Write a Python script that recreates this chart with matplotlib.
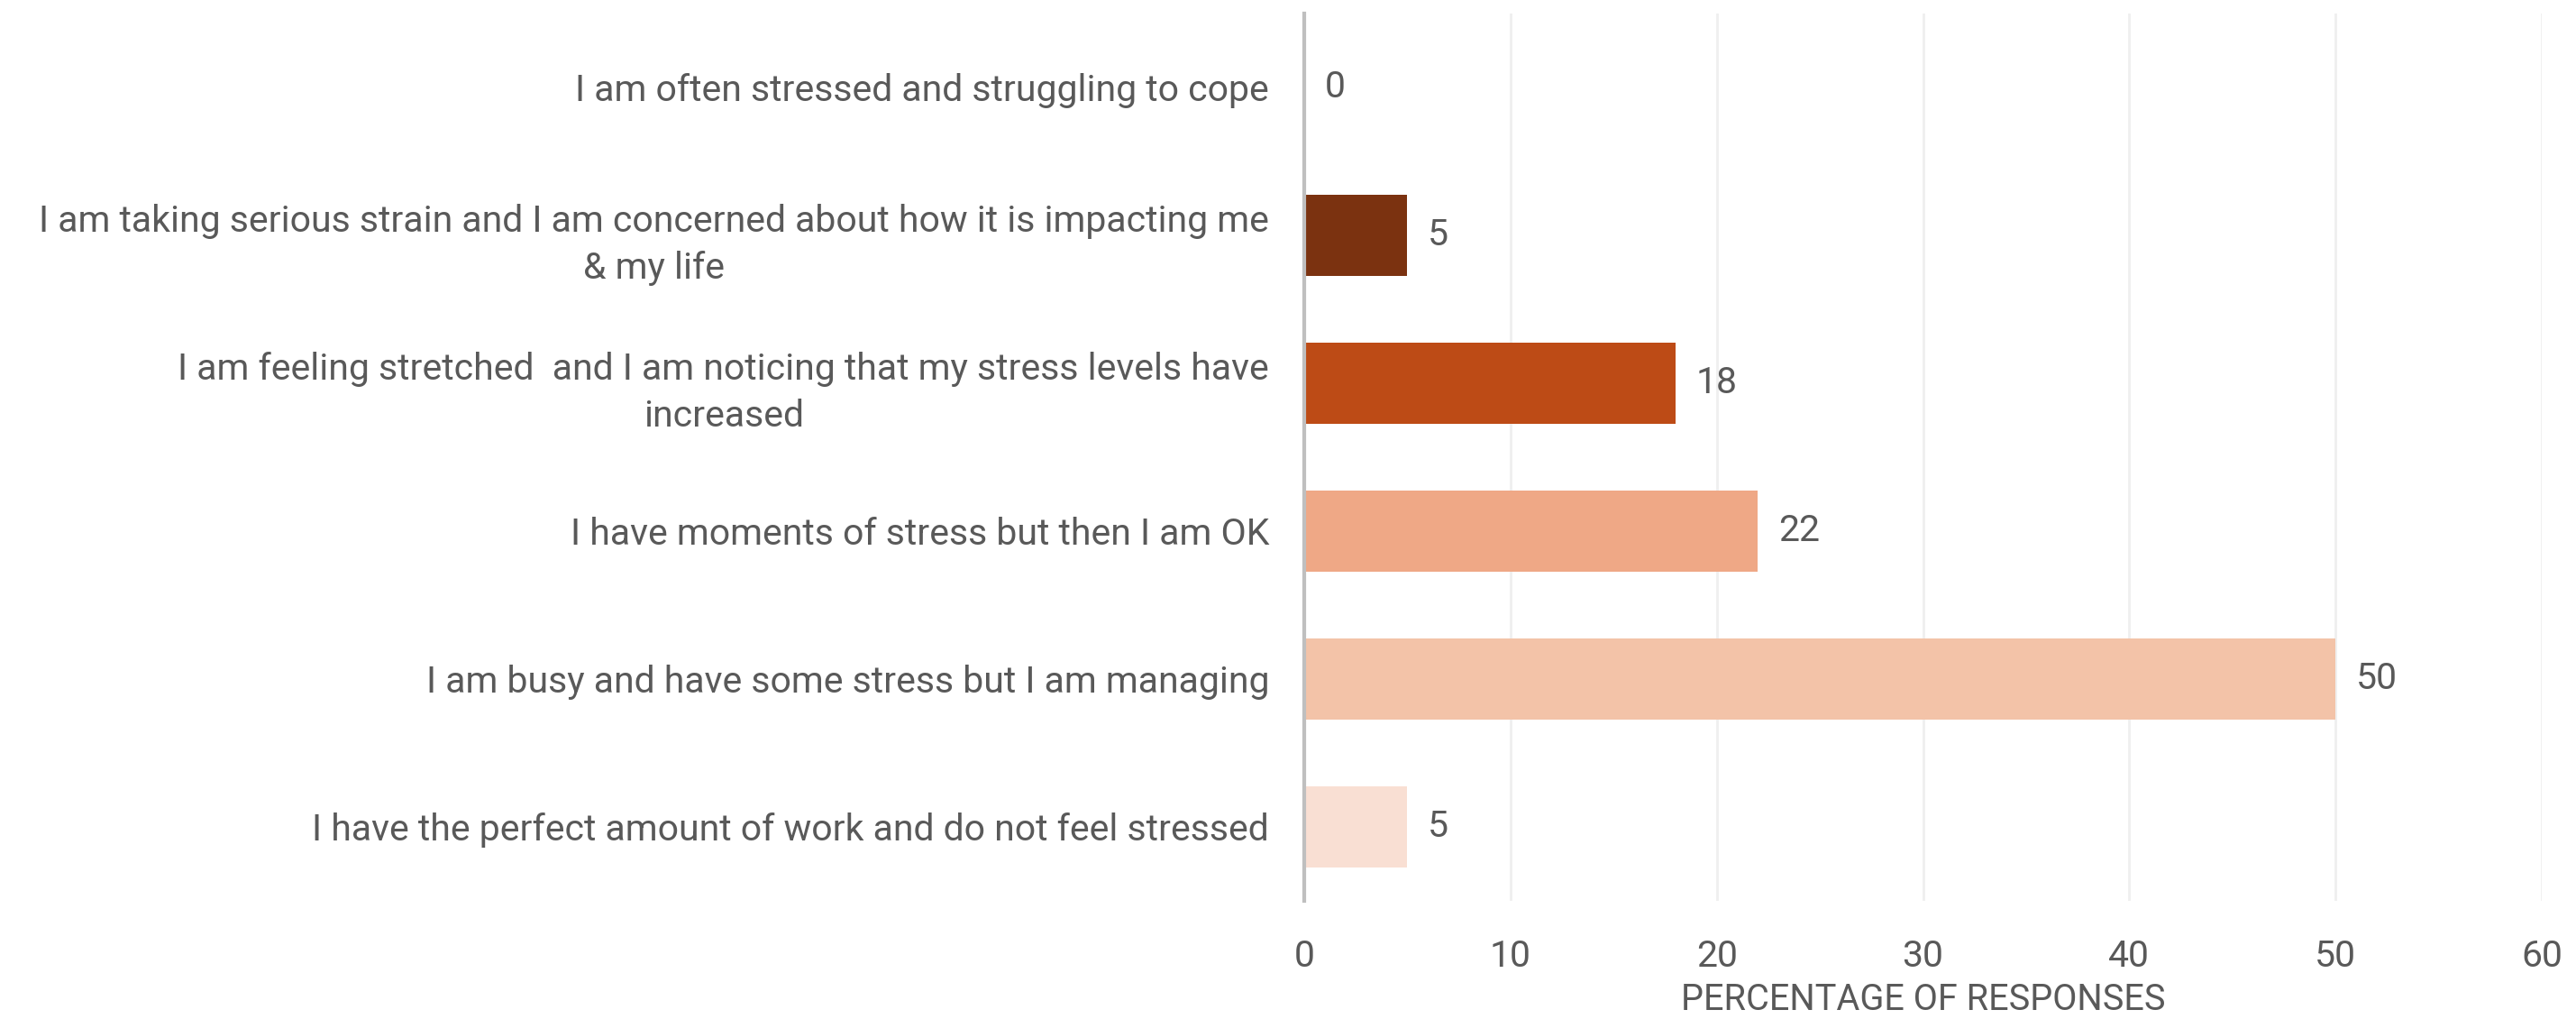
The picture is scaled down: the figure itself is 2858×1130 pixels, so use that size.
import matplotlib.pyplot as plt

# survey answers, bottom to top
answers = [
    "I have the perfect amount of work and do not feel stressed",
    "I am busy and have some stress but I am managing",
    "I have moments of stress but then I am OK",
    "I am feeling stretched  and I am noticing that my stress levels have\nincreased",
    "I am taking serious strain and I am concerned about how it is impacting me\n& my life",
    "I am often stressed and struggling to cope",
]
percentages = [5, 50, 22, 18, 5, 0]
bar_colors = ['#F9DFD3', '#F3C3A8', '#EFA886', '#BD4B16', '#7B3210', '#5A200A']
x_ticks = [0, 10, 20, 30, 40, 50, 60]

plt.rcParams['font.family'] = ['Roboto', 'DejaVu Sans']
text_grey = '#595959'
fs = 29.5

fig = plt.figure(figsize=(28.58, 11.3), dpi=100)
ax = fig.add_axes([1447 / 2858, 131 / 1130, 1373 / 2858, 984 / 1130])

pos = list(range(len(answers)))
ax.barh(pos, percentages, height=0.55, color=bar_colors, zorder=3)

for y, v in zip(pos, percentages):
    ax.text(v + 1.0, y, str(v), va='center', ha='left', fontsize=fs, color=text_grey, zorder=4)

ax.set_xlim(0, 60)
ax.set_ylim(-0.5, len(answers) - 0.5)
ax.set_xticks(x_ticks)
ax.set_yticks(pos)
ax.set_yticklabels(answers, fontsize=fs, color=text_grey, multialignment='center', linespacing=1.42)
ax.tick_params(axis='y', length=0, pad=28)
ax.tick_params(axis='x', length=0, pad=30, labelsize=fs, labelcolor=text_grey)

ax.grid(axis='x', color='#EFEFEF', linewidth=2, zorder=0)
for side in ['top', 'right', 'bottom']:
    ax.spines[side].set_visible(False)
ax.spines['left'].set_color('#BFBFBF')
ax.spines['left'].set_linewidth(3)
ax.spines['left'].set_zorder(5)

ax.set_xlabel('PERCENTAGE OF RESPONSES', fontsize=fs - 1, color=text_grey, labelpad=7)

fig.savefig('out.png', dpi=100, facecolor='white')
